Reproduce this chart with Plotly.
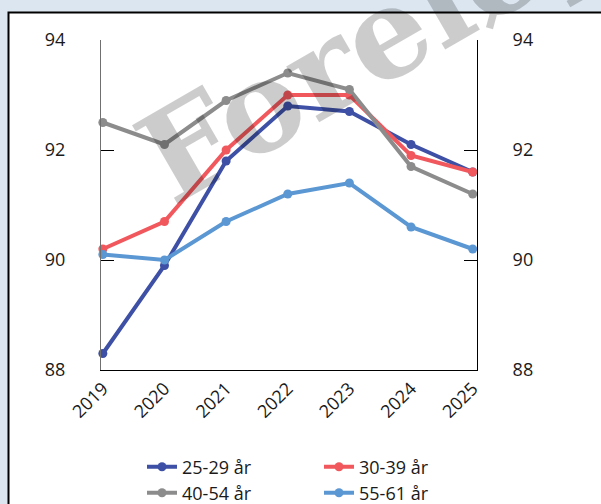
import plotly.graph_objects as go

years = [2019, 2020, 2021, 2022, 2023, 2024, 2025]
s_25_29 = [88.3, 89.9, 91.8, 92.8, 92.7, 92.1, 91.6]
s_30_39 = [90.2, 90.7, 92.0, 93.0, 93.0, 91.9, 91.6]
s_40_54 = [92.5, 92.1, 92.9, 93.4, 93.1, 91.7, 91.2]
s_55_61 = [90.1, 90.0, 90.7, 91.2, 91.4, 90.6, 90.2]
series_names = ["25-29 år", "30-39 år", "40-54 år", "55-61 år"]
series_colors = ["#3e50a5", "#f0585d", "#8c8c8c", "#5b97d3"]
y_ticks = [88, 90, 92, 94]
watermark = "Foreløpig"

FONT = "Open Sans"
W, H = 601, 504
L, R, T, B = 101, 477, 40, 370  # plot area in pixels

def px_x(p):
    return (p - L) / (R - L)

def px_y(p):
    return (B - p) / (B - T)

fig = go.Figure()
all_series = [s_25_29, s_30_39, s_40_54, s_55_61]
legends = ["legend", "legend", "legend2", "legend2"]
for name, vals, col, lg in zip(series_names, all_series, series_colors, legends):
    fig.add_trace(go.Scatter(
        x=years, y=vals, name=name, mode="lines+markers",
        line=dict(color=col, width=4), marker=dict(color=col, size=9),
        legend=lg, cliponaxis=False,
    ))

# invisible trace for the right axis
fig.add_trace(go.Scatter(x=[None], y=[None], yaxis="y2", showlegend=False, hoverinfo="skip"))

# white panel with black border
fig.add_shape(type="rect", xref="paper", yref="paper",
              x0=px_x(8.5), x1=px_x(640), y0=px_y(540), y1=px_y(12.5),
              fillcolor="white", line=dict(color="black", width=2), layer="below")

fig.add_annotation(text=watermark, xref="paper", yref="paper", x=px_x(438), y=px_y(3),
                   xanchor="center", yanchor="middle",
                   showarrow=False, textangle=-30,
                   font=dict(family="DejaVu Serif", size=125, color="rgba(0,0,0,0.2)", weight="bold"))

axis_font = dict(family=FONT, size=18, color="#1a1a1a")
fig.update_layout(
    width=W, height=H,
    margin=dict(l=L, r=W - R, t=T, b=H - B, pad=0),
    paper_bgcolor="#dce6f1", plot_bgcolor="rgba(0,0,0,0)",
    font=dict(family=FONT, size=18, color="#1a1a1a"),
    xaxis=dict(range=[2018.97, 2025.07], tickvals=years, tickangle=-45,
               showline=True, linecolor="black", linewidth=1, showgrid=False,
               zeroline=False, ticks="", tickfont=axis_font),
    yaxis=dict(range=[88, 94], tickvals=y_ticks, showgrid=False, zeroline=False,
               showline=True, linecolor="#707070", linewidth=1,
               ticks="inside", ticklen=13, tickcolor="black", tickwidth=1,
               ticklabelstandoff=31, tickfont=axis_font),
    yaxis2=dict(range=[88, 94], tickvals=y_ticks, overlaying="y", side="right",
                showgrid=False, zeroline=False, showline=True, linecolor="black",
                linewidth=1, ticks="inside", ticklen=13, tickcolor="black",
                ticklabelstandoff=31, tickfont=axis_font),
    legend=dict(orientation="h", xref="container", yref="container",
                x=142 / W, y=(H - 467) / H, xanchor="left", yanchor="middle",
                entrywidth=132, font=dict(family=FONT, size=18, color="#1a1a1a"),
                bgcolor="rgba(0,0,0,0)"),
    legend2=dict(orientation="h", xref="container", yref="container",
                 x=142 / W, y=(H - 493) / H, xanchor="left", yanchor="middle",
                 entrywidth=132, font=dict(family=FONT, size=18, color="#1a1a1a"),
                 bgcolor="rgba(0,0,0,0)"),
    showlegend=True,
)

fig.write_html("out.html", config={"displayModeBar": False},
               post_script="document.body.style.margin='0';document.body.style.background='#dce6f1';")
